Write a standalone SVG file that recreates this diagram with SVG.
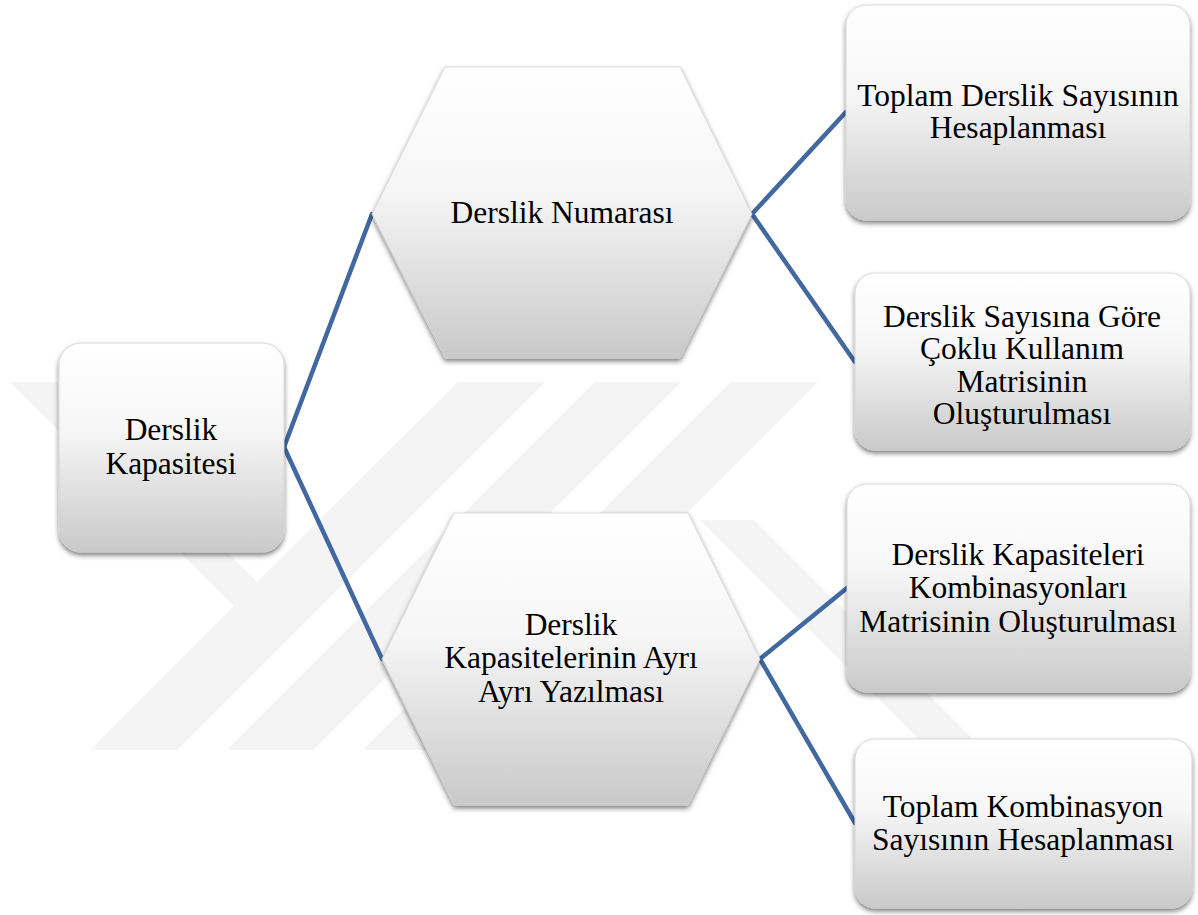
<svg xmlns="http://www.w3.org/2000/svg" width="1198" height="915" viewBox="0 0 1198 915">
<defs>
<linearGradient id="g" x1="0" y1="0" x2="0" y2="1">
<stop offset="0" stop-color="#ffffff"/>
<stop offset="0.42" stop-color="#f6f6f6"/>
<stop offset="1" stop-color="#c9c9c9"/>
</linearGradient>
<filter id="sh" x="-10%" y="-10%" width="120%" height="125%">
<feDropShadow dx="0" dy="3" stdDeviation="2.5" flood-color="#000" flood-opacity="0.5"/>
</filter>
<style>
.box{fill:url(#g);stroke:#d0d0d0;stroke-width:0.8;filter:url(#sh)}
.wm{fill:#f4f4f4}
.c{stroke:#4168a0;stroke-width:4.5;fill:none;stroke-linecap:round}
text{font-family:"Liberation Serif","Times New Roman",serif;font-size:31.5px;fill:#000;text-anchor:middle}
</style>
</defs>
<rect width="1198" height="915" fill="#ffffff"/>
<g id="watermark">
<polygon class="wm" points="10,382 57,382 257,582 458,382 545,382 177,750 90,750 234,606"/>
<polygon class="wm" points="227,750 313,750 681,382 595,382"/>
<polygon class="wm" points="363,750 450,750 818,382 731,382"/>
<polygon class="wm" points="700,520 754,520 984,750 930,750"/>
</g>
<g id="connectors">
<line class="c" x1="284" y1="447" x2="372" y2="214"/>
<line class="c" x1="284" y1="447" x2="382" y2="659"/>
<line class="c" x1="752" y1="214" x2="846" y2="112"/>
<line class="c" x1="752" y1="214" x2="855" y2="362"/>
<line class="c" x1="760" y1="659" x2="847" y2="588"/>
<line class="c" x1="760" y1="659" x2="855" y2="823"/>
</g>
<g id="n-kapasite">
<rect class="box" x="59" y="343" width="225" height="209" rx="22"/>
<text x="171" y="440">Derslik</text>
<text x="171" y="474">Kapasitesi</text>
</g>
<g id="n-numara">
<polygon class="box" points="445,67 680,67 752,214 680,358 445,358 372,214"/>
<text x="562" y="223">Derslik Numarası</text>
</g>
<g id="n-ayri">
<polygon class="box" points="454,513 688,513 760,659 688,805 454,805 382,659"/>
<text x="571" y="635">Derslik</text>
<text x="571" y="668">Kapasitelerinin Ayrı</text>
<text x="571" y="702">Ayrı Yazılması</text>
</g>
<g id="n-toplam-derslik">
<rect class="box" x="846" y="5" width="344" height="215" rx="20"/>
<text x="1018" y="106">Toplam Derslik Sayısının</text>
<text x="1018" y="138">Hesaplanması</text>
</g>
<g id="n-coklu">
<rect class="box" x="855" y="273" width="335" height="177" rx="20"/>
<text x="1022" y="327">Derslik Sayısına Göre</text>
<text x="1022" y="359">Çoklu Kullanım</text>
<text x="1022" y="392">Matrisinin</text>
<text x="1022" y="424">Oluşturulması</text>
</g>
<g id="n-kombinasyon-matris">
<rect class="box" x="847" y="484" width="343" height="208" rx="20"/>
<text x="1018" y="565">Derslik Kapasiteleri</text>
<text x="1018" y="598">Kombinasyonları</text>
<text x="1018" y="632">Matrisinin Oluşturulması</text>
</g>
<g id="n-toplam-kombinasyon">
<rect class="box" x="855" y="739" width="337" height="169" rx="20"/>
<text x="1023" y="817">Toplam Kombinasyon</text>
<text x="1023" y="850">Sayısının Hesaplanması</text>
</g>
</svg>
